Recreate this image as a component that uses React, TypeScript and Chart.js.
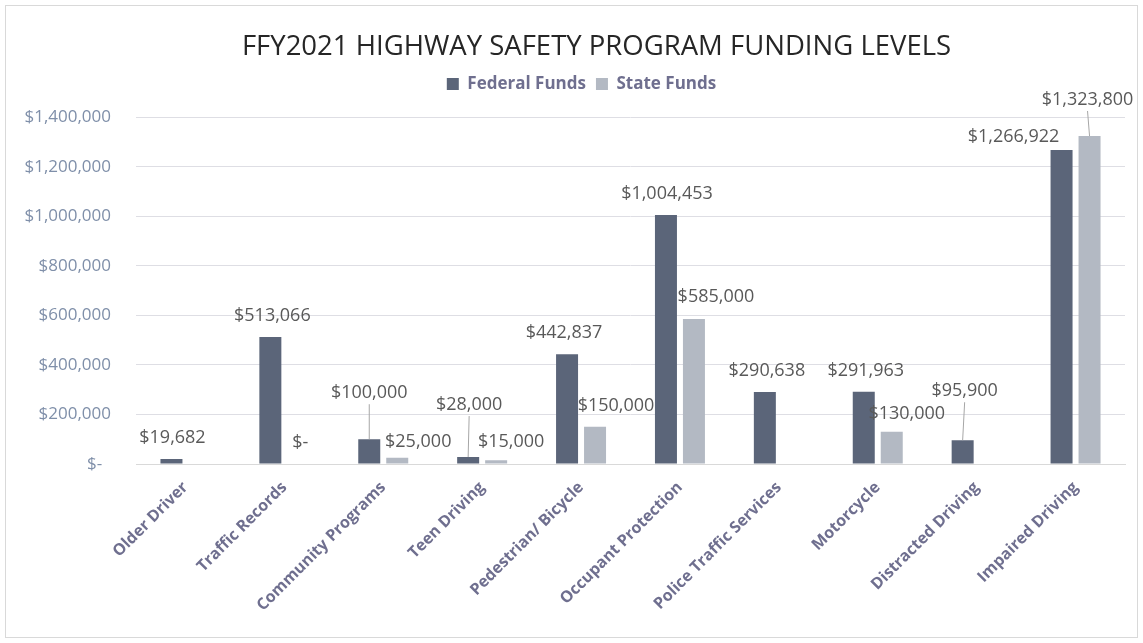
import React, { useEffect, useRef } from "react";
import { Chart, registerables } from "chart.js";

Chart.register(...registerables);

const categories = [
  "Older Driver",
  "Traffic Records",
  "Community Programs",
  "Teen Driving",
  "Pedestrian/ Bicycle",
  "Occupant Protection",
  "Police Traffic Services",
  "Motorcycle",
  "Distracted Driving",
  "Impaired Driving",
];

const federalFunds: (number | null)[] = [19682, 513066, 100000, 28000, 442837, 1004453, 290638, 291963, 95900, 1266922];
const stateFunds: (number | null)[] = [null, 0, 25000, 15000, 150000, 585000, null, 130000, null, 1323800];

const yTicks = [0, 200000, 400000, 600000, 800000, 1000000, 1200000, 1400000];

// label nudges (px) relative to the default "above bar" position, and leader-line flags
const fedNudge: [number, number, boolean][] = [
  [1, 0, false], [2, 0, false], [0, -25, true], [1, -31, true], [-3, 0, false],
  [1, 0, false], [2, 0, false], [2, 0, false], [2, -28, true], [-48, 8, false],
];
const stateNudge: [number, number, boolean][] = [
  [0, 0, false], [2, 0, false], [21, 5, false], [15, 3, false], [21, 0, false],
  [22, -1, false], [0, 0, false], [15, 3, false], [0, 0, false], [-2, -15, true],
];

const fmt = (v: number) => (v === 0 ? "$-" : "$" + v.toLocaleString("en-US"));

const labelPlugin = {
  id: "barLabels",
  afterLayout(chart: any) {
    // Excel centres the title/legend slightly right of the canvas centre
    const t = chart.titleBlock;
    if (t) {
      t.left += 26;
      t.right += 26;
    }
    const l = chart.legend;
    if (l) {
      l.left += 11;
      l.right += 11;
    }
  },
  afterDatasetsDraw(chart: any) {
    const ctx = chart.ctx;
    ctx.save();
    ctx.font = "18px 'Open Sans', 'Noto Sans', sans-serif";
    ctx.fillStyle = "#595959";
    ctx.textAlign = "center";
    ctx.textBaseline = "middle";
    chart.data.datasets.forEach((ds: any, di: number) => {
      const meta = chart.getDatasetMeta(di);
      const nudges = di === 0 ? fedNudge : stateNudge;
      meta.data.forEach((bar: any, i: number) => {
        const v = ds.data[i];
        if (v === null || v === undefined) return;
        const [dx, dy, leader] = nudges[i];
        const x = bar.x + dx;
        const y = bar.y - 21 + dy;
        if (leader) {
          ctx.strokeStyle = "#A6A6A6";
          ctx.lineWidth = 1;
          ctx.beginPath();
          ctx.moveTo(x, y + 11);
          ctx.lineTo(bar.x, bar.y);
          ctx.stroke();
        }
        ctx.fillText(fmt(v), x, y);
      });
    });
    ctx.restore();
  },
};

export default function App() {
  const ref = useRef<HTMLCanvasElement>(null);
  useEffect(() => {
    document.body.style.margin = "0";
    const chart = new Chart(ref.current!, {
      type: "bar",
      data: {
        labels: categories,
        datasets: [
          { label: "Federal Funds", data: federalFunds, backgroundColor: "#5B6579" },
          { label: "State Funds", data: stateFunds, backgroundColor: "#B3B9C3" },
        ],
      },
      options: {
        animation: false,
        responsive: false,
        maintainAspectRatio: false,
        layout: { padding: { left: 10, right: 12, top: 14, bottom: 8 } },
        datasets: { bar: { categoryPercentage: 0.566, barPercentage: 0.786 } },
        plugins: {
          title: {
            display: true,
            text: "FFY2021 HIGHWAY SAFETY PROGRAM FUNDING LEVELS",
            color: "#262626",
            font: { family: "'Open Sans', sans-serif", size: 27.5, weight: "normal" },
            padding: { top: 11, bottom: 1.5 },
          },
          legend: {
            display: true,
            labels: {
              boxWidth: 12,
              boxHeight: 12,
              color: "#6F6F8F",
              font: { family: "'Open Sans', sans-serif", size: 17, weight: "bold" },
              padding: 10,
            },
          },
          tooltip: { enabled: false },
        },
        scales: {
          x: {
            grid: { display: false },
            border: { color: "#D9D9D9" },
            afterFit: (axis: any) => {
              axis.height = 165;
            },
            ticks: {
              color: "#6F6F8F",
              padding: 6,
              font: { family: "'Open Sans', sans-serif", size: 16, weight: "bold" },
              maxRotation: 45,
              minRotation: 45,
              autoSkip: false,
            },
          },
          y: {
            min: 0,
            max: 1459000,
            afterBuildTicks: (axis: any) => {
              axis.ticks = yTicks.map((v) => ({ value: v }));
            },
            afterFit: (axis: any) => {
              axis.width = 120;
            },
            grid: { color: "#DEDEE4", drawTicks: false },
            border: { display: false },
            ticks: {
              color: "#7F8FA9",
              padding: 25,
              font: { family: "'Open Sans', sans-serif", size: 17 },
              callback: (v: any) => (Number(v) === 0 ? "$-  " : fmt(Number(v))),
            },
          },
        },
      },
      plugins: [labelPlugin],
    });
    return () => chart.destroy();
  }, []);
  return (
    <div
      style={{
        position: "absolute",
        left: 5,
        top: 5,
        width: 1131,
        height: 631,
        border: "1px solid #D9D9D9",
        background: "#fff",
      }}
    >
      <canvas ref={ref} width={1131} height={631} style={{ display: "block" }} />
    </div>
  );
}
